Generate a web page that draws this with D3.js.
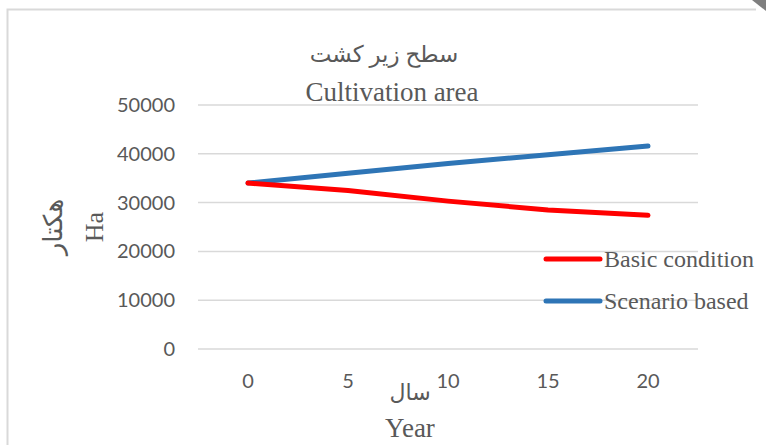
<!DOCTYPE html>
<html lang="en">
<head>
    <meta charset="UTF-8">
    <title>Cultivation area</title>
    <script src="https://d3js.org/d3.v7.min.js"></script>
    <style>
        body { margin: 0; background: #fff; }
        svg { display: block; }
    </style>
</head>
<body>
    <svg id="chart"></svg>
    <script>
        // data
        const years = [0, 5, 10, 15, 20];
        const basicCondition = [34000, 32500, 30300, 28500, 27400];
        const scenarioBased = [34000, 36000, 38000, 39800, 41600];
        const yTicks = [0, 10000, 20000, 30000, 40000, 50000];
        const xTicks = [0, 5, 10, 15, 20];
        const seriesNames = ["Basic condition", "Scenario based"];
        const seriesColors = ["#ff0000", "#2e75b6"];

        const width = 766, height = 445;
        const svg = d3.select("#chart").attr("width", width).attr("height", height);

        const serif = "'Liberation Serif', 'DejaVu Sans', serif";
        const sans = "Lato, 'Open Sans', sans-serif";
        const grey = "#595959";

        // chart frame
        svg.append("path")
            .attr("d", "M7.5,445 L7.5,9.5 L756,9.5")
            .attr("fill", "none")
            .attr("stroke", "#d9d9d9")
            .attr("stroke-width", 2);
        svg.append("polygon")
            .attr("points", "752,0 766,0 766,11")
            .attr("fill", "#7f7f7f");

        const x = d3.scaleLinear().domain([-2.5, 22.5]).range([198, 698]);
        const y = d3.scaleLinear().domain([0, 50000]).range([349, 105]);

        // gridlines
        svg.append("g")
            .selectAll("line")
            .data(yTicks)
            .join("line")
            .attr("x1", x.range()[0])
            .attr("x2", x.range()[1])
            .attr("y1", d => y(d))
            .attr("y2", d => y(d))
            .attr("stroke", "#d9d9d9")
            .attr("stroke-width", 1.5);

        // y axis labels
        svg.append("g")
            .selectAll("text")
            .data(yTicks)
            .join("text")
            .attr("x", 175)
            .attr("y", d => y(d) + 7)
            .attr("text-anchor", "end")
            .attr("font-family", sans)
            .attr("font-size", "20px")
            .attr("fill", grey)
            .text(d => d);

        // x axis labels
        svg.append("g")
            .selectAll("text")
            .data(xTicks)
            .join("text")
            .attr("x", d => x(d))
            .attr("y", 388)
            .attr("text-anchor", "middle")
            .attr("font-family", sans)
            .attr("font-size", "20px")
            .attr("fill", grey)
            .text(d => d);

        // lines
        const line = d3.line()
            .x((d, i) => x(years[i]))
            .y(d => y(d));

        [scenarioBased, basicCondition].forEach((vals, k) => {
            svg.append("path")
                .datum(vals)
                .attr("d", line)
                .attr("fill", "none")
                .attr("stroke", k === 0 ? seriesColors[1] : seriesColors[0])
                .attr("stroke-width", 5)
                .attr("stroke-linecap", "round")
                .attr("stroke-linejoin", "round");
        });

        // titles
        svg.append("text")
            .attr("x", 384)
            .attr("y", 62)
            .attr("text-anchor", "middle")
            .attr("font-family", serif)
            .attr("font-size", "23px")
            .attr("fill", grey)
            .text("سطح زیر کشت");
        svg.append("text")
            .attr("x", 392)
            .attr("y", 101)
            .attr("text-anchor", "middle")
            .attr("font-family", serif)
            .attr("font-size", "27px")
            .attr("fill", grey)
            .text("Cultivation area");

        // y axis titles
        svg.append("text")
            .attr("transform", "translate(62,227) rotate(-90)")
            .attr("text-anchor", "middle")
            .attr("font-family", serif)
            .attr("font-size", "26px")
            .attr("fill", grey)
            .text("هکتار");
        svg.append("text")
            .attr("transform", "translate(103,227) rotate(-90)")
            .attr("text-anchor", "middle")
            .attr("font-family", serif)
            .attr("font-size", "26px")
            .attr("fill", grey)
            .text("Ha");

        // x axis titles
        svg.append("text")
            .attr("x", 410)
            .attr("y", 400)
            .attr("text-anchor", "middle")
            .attr("font-family", serif)
            .attr("font-size", "22px")
            .attr("fill", grey)
            .text("سال");
        svg.append("text")
            .attr("x", 410)
            .attr("y", 437)
            .attr("text-anchor", "middle")
            .attr("font-family", serif)
            .attr("font-size", "27px")
            .attr("fill", grey)
            .text("Year");

        // legend
        const legend = svg.append("g")
            .selectAll("g")
            .data(seriesNames)
            .join("g")
            .attr("transform", (d, i) => `translate(546,${259 + i * 42})`);
        legend.append("line")
            .attr("x1", 0).attr("x2", 54)
            .attr("y1", 0).attr("y2", 0)
            .attr("stroke", (d, i) => seriesColors[i])
            .attr("stroke-width", 5)
            .attr("stroke-linecap", "round");
        legend.append("text")
            .attr("x", 58)
            .attr("y", 8)
            .attr("font-family", serif)
            .attr("font-size", "24px")
            .attr("fill", grey)
            .text(d => d);
    </script>
</body>
</html>
